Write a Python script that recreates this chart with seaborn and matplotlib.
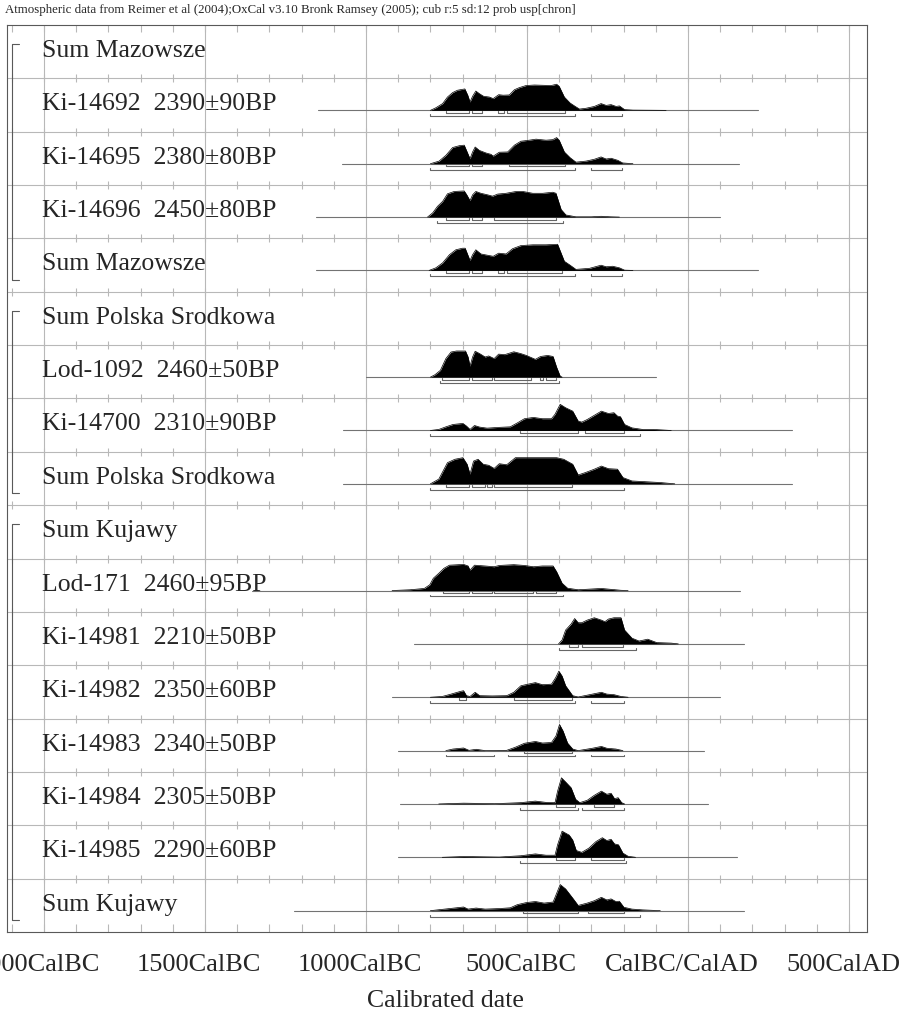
import numpy as np
import pandas as pd
import matplotlib
matplotlib.use("Agg")
import matplotlib.pyplot as plt
import matplotlib.transforms as mtransforms
import seaborn as sns

# ---- data (years: negative = BC) ----
title = ("Atmospheric data from Reimer et al (2004);OxCal v3.10 Bronk Ramsey (2005); "
         "cub r:5 sd:12 prob usp[chron]")

row_labels = [
    "Sum Mazowsze",
    "Ki-14692  2390\u00b190BP",
    "Ki-14695  2380\u00b180BP",
    "Ki-14696  2450\u00b180BP",
    "Sum Mazowsze",
    "Sum Polska Srodkowa",
    "Lod-1092  2460\u00b150BP",
    "Ki-14700  2310\u00b190BP",
    "Sum Polska Srodkowa",
    "Sum Kujawy",
    "Lod-171  2460\u00b195BP",
    "Ki-14981  2210\u00b150BP",
    "Ki-14982  2350\u00b160BP",
    "Ki-14983  2340\u00b150BP",
    "Ki-14984  2305\u00b150BP",
    "Ki-14985  2290\u00b160BP",
    "Sum Kujawy",
]

# groups: (first row, last row)
groups = [(0, 4), (5, 8), (9, 16)]

major_years = [-2000, -1500, -1000, -500, 0, 500]
major_labels = ["2000CalBC", "1500CalBC", "1000CalBC", "500CalBC", "CalBC/CalAD", "500CalAD"]
minor_years = list(range(-2100, 501, 100))

# probability curves (relative height, 1 = max)
ki14692_yr = [-800, -783, -762, -747, -731, -716, -698, -693, -684, -677, -669, -659, -648, -635,
              -617, -605, -588, -574, -555, -539, -524, -503, -477, -451, -425, -408, -400, -384,
              -366, -350, -337, -317, -291, -270, -254, -239, -223, -213, -197, -171, -68]
ki14692_h = [0, 0.1, 0.26, 0.51, 0.68, 0.77, 0.81, 0.82, 0.58, 0.32, 0.54, 0.74, 0.64, 0.54,
             0.51, 0.45, 0.6, 0.58, 0.59, 0.79, 0.87, 0.95, 0.97, 0.96, 0.95, 1.0, 0.92, 0.51,
             0.28, 0.15, 0.05, 0.08, 0.15, 0.26, 0.19, 0.22, 0.15, 0.17, 0.03, 0.01, 0]

ki14695_yr = [-800, -773, -752, -731, -710, -695, -688, -677, -669, -661, -648, -627, -612, -605,
              -586, -560, -539, -519, -493, -472, -441, -420, -408, -400, -384, -366, -348, -317,
              -291, -270, -254, -239, -218, -203, -171]
ki14695_h = [0, 0.1, 0.32, 0.62, 0.69, 0.71, 0.51, 0.19, 0.45, 0.64, 0.51, 0.41, 0.36, 0.29,
             0.44, 0.45, 0.71, 0.86, 0.9, 0.94, 0.9, 0.92, 1.0, 0.9, 0.45, 0.23, 0.06, 0.1,
             0.17, 0.26, 0.18, 0.21, 0.13, 0.03, 0]

ki14696_yr = [-809, -793, -778, -762, -747, -726, -695, -687, -677, -669, -659, -643, -622, -607,
              -591, -565, -534, -513, -482, -451, -420, -410, -394, -379, -348, -300, -270, -240, -213]
ki14696_h = [0, 0.16, 0.41, 0.6, 0.89, 0.98, 1.0, 0.85, 0.63, 0.85, 0.98, 0.91, 0.85, 0.8,
             0.88, 0.91, 0.98, 0.98, 0.91, 0.91, 0.95, 0.91, 0.29, 0.08, 0.01, 0.01, 0.03, 0.01, 0]

summaz_yr = [-804, -783, -762, -741, -721, -700, -692, -684, -677, -669, -659, -643, -622, -605,
             -588, -565, -545, -519, -482, -441, -405, -384, -366, -348, -306, -270, -254, -234,
             -213, -197, -171]
summaz_h = [0, 0.1, 0.29, 0.6, 0.79, 0.85, 0.85, 0.6, 0.38, 0.6, 0.79, 0.63, 0.58, 0.54,
            0.66, 0.63, 0.83, 0.95, 0.98, 0.98, 1.0, 0.35, 0.2, 0.04, 0.08, 0.2, 0.14, 0.16,
            0.1, 0.01, 0]

lod1092_yr = [-800, -786, -769, -752, -736, -719, -691, -683, -677, -669, -661, -647, -630, -619,
              -602, -588, -569, -541, -519, -502, -474, -458, -436, -419, -408, -397, -391]
lod1092_h = [0, 0.09, 0.26, 0.71, 0.96, 1.0, 1.0, 0.77, 0.42, 0.77, 0.99, 0.9, 0.77, 0.81,
             0.71, 0.88, 0.86, 0.97, 0.9, 0.83, 0.68, 0.79, 0.83, 0.79, 0.38, 0.04, 0]

ki14700_yr = [-800, -774, -752, -730, -699, -688, -677, -663, -647, -624, -586, -552, -530, -508,
              -480, -452, -424, -413, -397, -380, -358, -341, -330, -313, -291, -269, -247, -230,
              -219, -210, -197, -174, -141, -108, -52]
ki14700_h = [0, 0.04, 0.14, 0.23, 0.27, 0.17, 0.04, 0.19, 0.13, 0.09, 0.12, 0.14, 0.29, 0.45,
             0.5, 0.45, 0.45, 0.62, 1.0, 0.87, 0.74, 0.36, 0.32, 0.42, 0.58, 0.74, 0.65, 0.68,
             0.55, 0.53, 0.23, 0.1, 0.04, 0.04, 0]

sumps_yr = [-800, -774, -747, -724, -699, -686, -677, -666, -652, -636, -619, -602, -586, -563,
            -536, -474, -408, -386, -358, -341, -319, -291, -269, -247, -219, -202, -174, -130,
            -86, -41]
sumps_h = [0, 0.18, 0.81, 0.94, 1.0, 0.75, 0.37, 0.87, 0.94, 0.75, 0.71, 0.59, 0.77, 0.73,
           1.0, 1.0, 1.0, 0.94, 0.75, 0.34, 0.43, 0.56, 0.68, 0.58, 0.56, 0.24, 0.11, 0.08,
           0.05, 0]

lod171_yr = [-919, -863, -819, -802, -791, -774, -758, -741, -697, -683, -677, -663, -630, -602,
             -586, -541, -508, -480, -452, -419, -408, -391, -374, -341, -269, -208, -186]
lod171_h = [0, 0.03, 0.08, 0.22, 0.47, 0.66, 0.85, 0.97, 1.0, 0.94, 0.78, 0.97, 0.94, 0.91,
            0.96, 0.99, 0.96, 0.91, 0.94, 0.94, 0.72, 0.28, 0.09, 0.03, 0.08, 0.01, 0]

ki14981_yr = [-402, -391, -380, -363, -352, -341, -330, -313, -291, -269, -258, -247, -230, -208,
              -197, -174, -152, -125, -97, -52, -30]
ki14981_h = [0, 0.15, 0.53, 0.76, 0.97, 0.81, 0.81, 0.91, 1.0, 0.91, 0.85, 0.95, 1.0, 1.0,
             0.53, 0.22, 0.11, 0.18, 0.05, 0.03, 0]

ki14982_yr = [-800, -763, -736, -708, -697, -688, -677, -661, -647, -608, -563, -541, -519, -497,
              -474, -452, -424, -411, -401, -391, -380, -358, -341, -297, -269, -252, -230, -208, -186]
ki14982_h = [0, 0.03, 0.12, 0.22, 0.25, 0.06, 0.03, 0.19, 0.06, 0.05, 0.06, 0.19, 0.44, 0.5,
             0.56, 0.48, 0.5, 0.75, 1.0, 0.81, 0.44, 0.06, 0.01, 0.12, 0.19, 0.12, 0.1, 0.03, 0]

ki14983_yr = [-752, -730, -697, -680, -658, -630, -563, -536, -508, -474, -452, -424, -410, -399,
              -388, -374, -358, -341, -297, -269, -252, -224, -202]
ki14983_h = [0, 0.06, 0.1, 0.01, 0.05, 0, 0.01, 0.13, 0.28, 0.35, 0.29, 0.31, 0.56, 1.0,
             0.75, 0.29, 0.06, 0, 0.09, 0.16, 0.09, 0.06, 0]

ki14984_yr = [-774, -697, -600, -519, -474, -441, -413, -405, -393, -380, -363, -349, -336, -313,
              -291, -269, -252, -239, -228, -217, -206, -197]
ki14984_h = [0, 0.03, 0.01, 0.05, 0.11, 0.06, 0.05, 0.49, 1.0, 0.84, 0.62, 0.18, 0.05, 0.14,
             0.33, 0.49, 0.37, 0.41, 0.2, 0.24, 0.05, 0]

ki14985_yr = [-763, -697, -586, -519, -474, -441, -413, -405, -391, -369, -358, -347, -330, -308,
              -286, -266, -252, -239, -228, -216, -202, -186, -163]
ki14985_h = [0, 0.03, 0.01, 0.06, 0.13, 0.08, 0.08, 0.48, 1.0, 0.85, 0.66, 0.26, 0.19, 0.35,
             0.6, 0.75, 0.64, 0.69, 0.51, 0.48, 0.16, 0.04, 0]

sumkuj_yr = [-800, -741, -697, -683, -658, -630, -586, -552, -530, -502, -474, -447, -419, -408,
             -397, -380, -358, -341, -313, -291, -269, -252, -239, -224, -213, -199, -174, -141, -86]
sumkuj_h = [0, 0.08, 0.14, 0.06, 0.1, 0.06, 0.08, 0.11, 0.23, 0.31, 0.35, 0.29, 0.33, 0.66,
            1.0, 0.83, 0.48, 0.2, 0.29, 0.38, 0.51, 0.41, 0.45, 0.35, 0.36, 0.13, 0.06, 0.03, 0]

# extent of the thin line under each curve
extents = {1: (-1150, 217), 2: (-1075, 158), 3: (-1156, 98), 4: (-1156, 218),
           6: (-1000, -100), 7: (-1070, 323), 8: (-1072, 323),
           10: (-1355, 163), 11: (-850, 174), 12: (-918, 99), 13: (-900, 50),
           14: (-894, 62), 15: (-900, 153), 16: (-1225, 174)}

# 68.2% and 95.4% ranges
r68 = {1: [(-751, -681), (-672, -641), (-591, -572), (-562, -381)],
       2: [(-751, -681), (-672, -641), (-556, -381)],
       3: [(-751, -681), (-672, -641), (-601, -410)],
       4: [(-751, -681), (-672, -641), (-591, -572), (-562, -391)],
       6: [(-763, -680), (-672, -610), (-601, -489), (-461, -450), (-442, -409)],
       7: [(-521, -341), (-321, -200)],
       8: [(-751, -680), (-672, -630), (-623, -609), (-601, -360)],
       10: [(-762, -680), (-672, -608), (-601, -480), (-471, -410)],
       11: [(-371, -341), (-330, -201)],
       12: [(-711, -690), (-541, -360)],
       13: [(-510, -360)],
       14: [(-410, -351), (-291, -230)],
       15: [(-410, -351), (-300, -200)],
       16: [(-511, -341), (-311, -200)]}
r95 = {1: [(-801, -350), (-301, -206)],
       2: [(-801, -350), (-301, -206)],
       3: [(-781, -389)],
       4: [(-801, -350), (-301, -206)],
       6: [(-771, -401)],
       7: [(-800, -150)],
       8: [(-800, -200)],
       10: [(-800, -389)],
       11: [(-401, -160)],
       12: [(-800, -350), (-300, -200)],
       13: [(-750, -601), (-560, -350), (-300, -200)],
       14: [(-521, -341), (-330, -200)],
       15: [(-521, -191)],
       16: [(-800, -150)]}

curves = {1: (ki14692_yr, ki14692_h), 2: (ki14695_yr, ki14695_h), 3: (ki14696_yr, ki14696_h),
          4: (summaz_yr, summaz_h), 6: (lod1092_yr, lod1092_h), 7: (ki14700_yr, ki14700_h),
          8: (sumps_yr, sumps_h), 10: (lod171_yr, lod171_h), 11: (ki14981_yr, ki14981_h),
          12: (ki14982_yr, ki14982_h), 13: (ki14983_yr, ki14983_h), 14: (ki14984_yr, ki14984_h),
          15: (ki14985_yr, ki14985_h), 16: (sumkuj_yr, sumkuj_h)}

# ---- drawing ----
sns.set_style("white")
plt.rcParams['font.family'] = ['Liberation Serif', 'DejaVu Serif']

W, H = 900, 1017
fig = plt.figure(figsize=(W / 100, H / 100), dpi=100)
ax = fig.add_axes([7 / W, 1 - 932 / H, 860 / W, 907 / H])

n_rows = len(row_labels)
x0, x1 = -2115, 556
BASE = 0.6      # baseline inside a row
SCALE = 0.49    # curve height in row units

grid_c = '0.72'
ax.vlines(major_years, 0, n_rows, color=grid_c, lw=0.8, zorder=0)
ax.hlines(range(1, n_rows), x0, x1, color=grid_c, lw=0.8, zorder=0)
for k in range(1, n_rows):
    ax.vlines(minor_years, k - 0.075, k + 0.075, color=grid_c, lw=0.8, zorder=0)
ax.vlines(minor_years, 0, 0.13, color=grid_c, lw=0.8, zorder=0)
ax.vlines(minor_years, n_rows - 0.15, n_rows, color=grid_c, lw=0.8, zorder=0)

for i, lab in enumerate(row_labels):
    ax.text(-2007, i + BASE, lab, fontsize=18.5, va='baseline', ha='left', zorder=3)

for i, (yr, h) in curves.items():
    base = i + BASE
    s, e = extents[i]
    ax.plot([s, e], [base, base], color='0.45', lw=0.8, zorder=1)
    top = base - np.array(h) * SCALE
    ax.fill_between(yr, base, top, color='black', lw=0, zorder=2)
    df = pd.DataFrame({'year': yr, 'y': top})
    sns.lineplot(data=df, x='year', y='y', ax=ax, color='black', lw=0.5, sort=False,
                 estimator=None, zorder=2)
    for lev, ranges in ((0.05, r68[i]), (0.11, r95[i])):
        yb = base + lev
        for a, b in ranges:
            ax.plot([a, a, b, b], [yb - 0.035, yb, yb, yb - 0.035], color='0.4', lw=0.8, zorder=2)

# group brackets on the left
for first, last in groups:
    ya, yb = first + 0.36, last + 0.78
    ax.plot([-2078, -2100, -2100, -2078], [ya, ya, yb, yb], color='0.35', lw=0.8,
            clip_on=False, zorder=3)

ax.set_xlim(x0, x1)
ax.set_ylim(n_rows, 0)
ax.set_xlabel('')
ax.set_ylabel('')
ax.set_yticks([])
ax.set_xticks(major_years, labels=major_labels)
ax.tick_params(axis='x', length=0, pad=16, labelsize=19)
# OxCal sets its date labels a little left of the grid lines
shift = mtransforms.ScaledTranslation(-6 / 100, 0, fig.dpi_scale_trans)
for lbl in ax.get_xticklabels():
    lbl.set_transform(lbl.get_transform() + shift)
for sp in ax.spines.values():
    sp.set_visible(True)
    sp.set_color('0.35')
    sp.set_linewidth(0.8)

fig.text(5 / W, 1 - 10 / H, title, fontsize=9.3, va='center', ha='left')
fig.text(445 / W, 1 - 1001 / H, 'Calibrated date', fontsize=18.5, va='center', ha='center')

fig.savefig('out.png', dpi=100)
plt.close(fig)
